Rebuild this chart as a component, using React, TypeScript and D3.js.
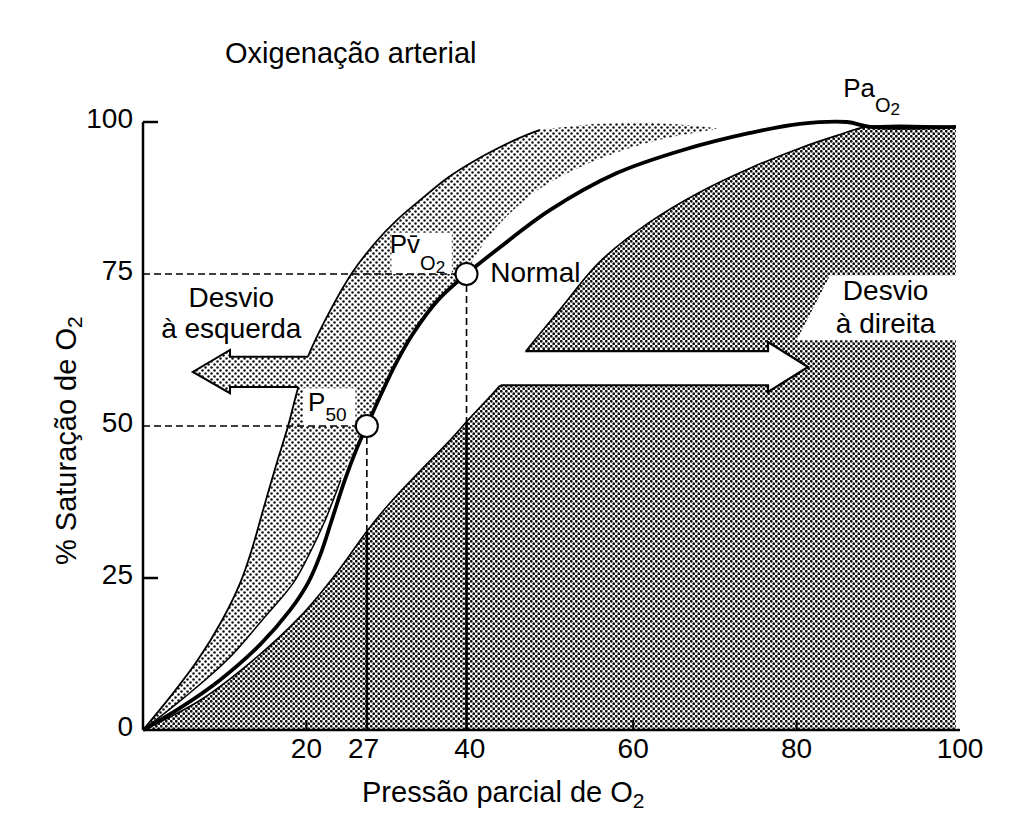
import React from "react";
import * as d3 from "d3";

// ---------- data (x: PO2 mmHg, y: % saturation) ----------
const normalP = [0, 4.5, 9.4, 14.3, 18.0, 20.2, 21.7, 23.1, 24.7, 26.2, 27.4, 29.0, 30.8, 33.0, 36.1, 39.6, 43.7, 49.8, 58.0, 66.1, 74.3, 80.4, 86.2, 89.0, 99.5];
const normalS = [0, 3.6, 8.2, 14.0, 19.7, 24.2, 28.8, 34.5, 41.1, 46.4, 50, 54.8, 59.9, 65.1, 70.7, 75, 79.4, 85.5, 91.6, 95.4, 98.2, 99.7, 100, 99.2, 99.2];

const leftOuterP = [0, 3.3, 6.7, 9.7, 11.9, 13.3, 14.7, 16.3, 17.8, 18.9, 20.2, 22.3, 25.6, 28.4, 31.1, 34.5, 37.6, 41.9, 46.1, 48.6];
const leftOuterS = [0, 5.4, 11.5, 18.1, 24.2, 29.6, 36.2, 43.6, 50.2, 55.9, 61.4, 67.4, 75.2, 80.1, 83.9, 87.8, 91.1, 94.6, 97.4, 98.7];
const leftTopP = [48.6, 55.9, 63.3, 70.3];
const leftTopS = [98.7, 99.7, 99.8, 99.0];
const leftInnerP = [0, 5.1, 10.3, 14.6, 18.4, 20.3, 22.3, 24.2, 26.0, 27.4, 29.0, 30.8, 33.0, 36.1, 39.6, 40.3, 42.0, 43.9, 48.0, 53.9, 62.1, 70.3];
const leftInnerS = [0, 5.4, 11.5, 18.1, 24.2, 28.8, 34.5, 41.1, 46.4, 50, 54.8, 59.9, 65.1, 70.7, 75, 77.0, 80.6, 83.6, 88.5, 92.8, 96.7, 98.9];
const leftInnerOutlineCount = 8;

const rightP = [0, 7.0, 13.5, 19.2, 23.8, 27.4, 30.2, 33.9, 37.6, 40.0, 43.7, 46.8, 51.0, 55.9, 62.1, 68.2, 74.3, 80.4, 85.0, 88.6, 99.5];
const rightS = [0, 4.9, 11.5, 18.6, 26.0, 32.7, 37.3, 42.6, 47.7, 51.3, 56.7, 62.2, 69.1, 77.0, 83.6, 88.5, 92.4, 95.7, 97.8, 99.2, 99.2];
const rightEndP = 99.5;

const markerP = [27.4, 39.6];
const markerS = [50, 75];

const leftArrowP = [20.2, 10.65, 10.65, 6.1, 10.65, 10.65, 19.0];
const leftArrowS = [61.4, 61.4, 62.5, 58.9, 55.4, 56.4, 56.4];
const leftArrowInnerP = 23;

const rightArrowP = [41, 76.5, 76.5, 81.4, 76.5, 76.5, 41];
const rightArrowS = [62.3, 62.3, 63.8, 59.7, 55.6, 56.7, 56.7];
const rightBoxP = [84.1, 100.8, 100.8, 80.0];
const rightBoxS = [74.8, 74.8, 64.1, 64.1];
const p50BoxP = [19.6, 26.0];
const p50BoxS = [50, 56.2];
const pvBoxP = [30.4, 37.8];
const pvBoxS = [75, 81.8];

const xTickValues = [20, 27, 40, 60, 80, 100];
const yTickValues = [0, 25, 50, 75, 100];
const xMinorTicks = [20, 60, 80];
const yMinorTicks = [25, 100];

const FONT = "'Liberation Sans', Arial, Helvetica, sans-serif";

export default function App() {
  const x = d3.scaleLinear().domain([0, 100]).range([143, 960]);
  const y = d3.scaleLinear().domain([0, 100]).range([730, 122]);
  const toPts = (P: number[], S: number[]) => P.map((p, i) => [x(p), y(S[i])] as [number, number]);
  const lineGen = d3.line<[number, number]>().curve(d3.curveCatmullRom.alpha(0.5));
  const straight = d3.line<[number, number]>();
  const join = (...paths: string[]) => paths.map((d, i) => (i === 0 ? d : "L" + d.slice(1))).join("") + "Z";

  const normalPts = toPts(normalP, normalS);
  const outerPts = toPts(leftOuterP, leftOuterS);
  const topPts = toPts(leftTopP, leftTopS);
  const innerPts = toPts(leftInnerP, leftInnerS);
  const rightPts = toPts(rightP, rightS);

  const bandPath = join(lineGen(outerPts)!, lineGen(topPts)!, lineGen(innerPts.slice().reverse())!);
  const darkPath = lineGen(rightPts)! + `L${x(rightEndP)},${y(0)}Z`;

  const leftArrowPts = toPts(leftArrowP, leftArrowS);
  const leftArrowFill = [
    ...leftArrowPts,
    [x(leftArrowInnerP), y(leftArrowS[leftArrowS.length - 1])] as [number, number],
    [x(leftArrowInnerP), y(leftArrowS[0])] as [number, number],
  ];
  const rightArrowPts = toPts(rightArrowP, rightArrowS);
  const rightBoxPts = toPts(rightBoxP, rightBoxS);

  const fs = 28;
  const subFs = 20;

  return (
    <svg width={1024} height={823} style={{ display: "block", margin: "-8px" }} fontFamily={FONT}>
      <defs>
        <pattern id="darkPat" width="5" height="5" patternUnits="userSpaceOnUse">
          <rect width="5" height="5" fill="#fff" />
          <circle cx="1.25" cy="1.25" r="1.42" fill="#111" />
          <circle cx="3.75" cy="3.75" r="1.42" fill="#111" />
        </pattern>
        <pattern id="lightPat" width="6" height="6" patternUnits="userSpaceOnUse">
          <rect width="6" height="6" fill="#fff" />
          <circle cx="1.5" cy="1.5" r="1.25" fill="#111" />
          <circle cx="4.5" cy="4.5" r="1.25" fill="#111" />
        </pattern>
        <clipPath id="darkClip">
          <path d={darkPath} />
        </clipPath>
      </defs>
      <rect width={1024} height={823} fill="#fff" />

      {/* right shift region */}
      <path d={darkPath} fill="url(#darkPat)" />
      <path d={lineGen(rightPts)!} fill="none" stroke="#000" strokeWidth={1.6} />
      <path d={straight(rightArrowPts)! + "Z"} fill="#fff" />
      <path d={straight(rightBoxPts)! + "Z"} fill="#fff" />
      <path d={straight(rightArrowPts)!} fill="none" stroke="#000" strokeWidth={2.2} strokeLinejoin="miter" clipPath="url(#darkClip)" />

      {/* left shift band */}
      <path d={bandPath} fill="url(#lightPat)" />
      <path d={lineGen(outerPts)!} fill="none" stroke="#000" strokeWidth={1.8} />
      <path d={lineGen(innerPts.slice(0, leftInnerOutlineCount))!} fill="none" stroke="#000" strokeWidth={1.5} />
      <path d={straight(leftArrowFill)! + "Z"} fill="url(#lightPat)" />
      <path d={straight(leftArrowPts)!} fill="none" stroke="#000" strokeWidth={2} />
      <rect x={x(p50BoxP[0])} y={y(p50BoxS[1])} width={x(p50BoxP[1]) - x(p50BoxP[0])} height={y(p50BoxS[0]) - y(p50BoxS[1])} fill="#fff" />
      <rect x={x(pvBoxP[0])} y={y(pvBoxS[1])} width={x(pvBoxP[1]) - x(pvBoxP[0])} height={y(pvBoxS[0]) - y(pvBoxS[1])} fill="#fff" />

      {/* guide lines */}
      {markerP.map((p, i) => (
        <g key={"g" + i}>
          <line x1={x(p)} x2={x(p)} y1={y(markerS[i])} y2={y(0)} stroke="#000" strokeWidth={2.6} clipPath="url(#darkClip)" />
          <line x1={x(p)} x2={x(p)} y1={y(markerS[i])} y2={y(0)} stroke="#000" strokeWidth={1.6} strokeDasharray="7 4" />
          <line x1={x(0)} x2={x(p)} y1={y(markerS[i])} y2={y(markerS[i])} stroke="#000" strokeWidth={1.6} strokeDasharray="7 4" />
        </g>
      ))}

      {/* normal curve */}
      <path d={lineGen(normalPts)!} fill="none" stroke="#000" strokeWidth={3.8} strokeLinejoin="round" />
      {markerP.map((p, i) => (
        <circle key={"c" + i} cx={x(p)} cy={y(markerS[i])} r={11} fill="#fff" stroke="#000" strokeWidth={2} />
      ))}

      {/* axes */}
      <line x1={x(0)} x2={x(0)} y1={y(100)} y2={y(0)} stroke="#000" strokeWidth={2.5} />
      <line x1={x(0)} x2={x(100)} y1={y(0)} y2={y(0)} stroke="#000" strokeWidth={2.5} />
      {yMinorTicks.map((v) => (
        <line key={"yt" + v} x1={x(0)} x2={x(0) + 15} y1={y(v)} y2={y(v)} stroke="#000" strokeWidth={2.5} />
      ))}
      {xMinorTicks.map((v) => (
        <line key={"xt" + v} x1={x(v)} x2={x(v)} y1={y(0)} y2={y(0) - 10} stroke="#000" strokeWidth={2} />
      ))}
      {yTickValues.map((v) => (
        <text key={"yl" + v} x={x(0) - 10} y={y(v) + 6} textAnchor="end" fontSize={28} fill="#000">{v}</text>
      ))}
      {xTickValues.map((v) => (
        <text key={"xl" + v} x={x(v)} y={758} textAnchor="middle" fontSize={28} fill="#000">{v}</text>
      ))}

      {/* titles */}
      <text x={225} y={63} fontSize={29} fill="#000">Oxigenação arterial</text>
      <text x={362} y={802} fontSize={29} fill="#000">
        Pressão parcial de O<tspan dy={6} fontSize={21}>2</tspan>
      </text>
      <text transform="translate(76,565) rotate(-90)" fontSize={29} fill="#000">
        % Saturação de O<tspan dy={6} fontSize={21}>2</tspan>
      </text>

      {/* annotations */}
      <text x={x(42.5)} y={y(73.7)} fontSize={fs} fill="#000">Normal</text>
      <text x={x(20.2)} y={y(52.5)} fontSize={26} fill="#000">
        P<tspan dy={10} fontSize={19}>50</tspan>
      </text>
      <text x={x(30.2)} y={y(78.5)} fontSize={26} fill="#000">
        Pv̄<tspan dy={17} fontSize={subFs}>O</tspan><tspan dy={3} fontSize={17}>2</tspan>
      </text>
      <text x={x(85.7)} y={y(104.1)} fontSize={26} fill="#000">
        Pa<tspan dy={15} fontSize={subFs}>O</tspan><tspan dy={3} fontSize={17}>2</tspan>
      </text>
      <text x={x(10.8)} y={y(69.6)} textAnchor="middle" fontSize={fs} fill="#000">Desvio</text>
      <text x={x(10.8)} y={y(64.5)} textAnchor="middle" fontSize={fs} fill="#000">à esquerda</text>
      <text x={x(90.9)} y={y(70.7)} textAnchor="middle" fontSize={fs} fill="#000">Desvio</text>
      <text x={x(90.9)} y={y(65.3)} textAnchor="middle" fontSize={fs} fill="#000">à direita</text>
    </svg>
  );
}
